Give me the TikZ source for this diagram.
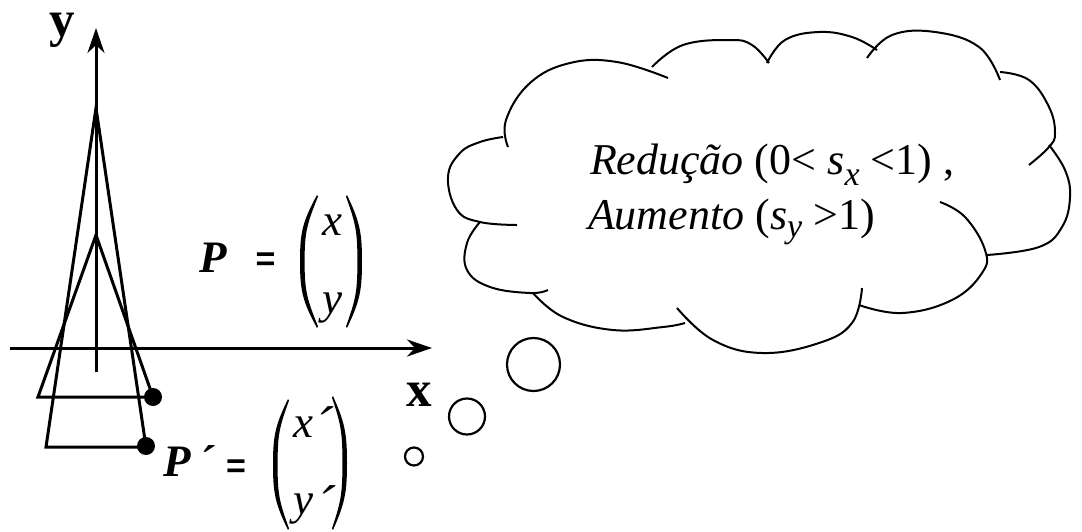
\documentclass[tikz,border=0pt]{standalone}
\usepackage{fontspec}
\setmainfont{Liberation Serif}
\newfontfamily\eqfont{Liberation Sans}
\usetikzlibrary{arrows.meta}
\newcommand\myParen[5]{% #1 outer x, #2 end x, #3 top y, #4 bottom y, #5 side (+1 left, -1 right)
  \pgfmathsetmacro\pMid{(#3+#4)/2}%
  \pgfmathsetmacro\pH{#4-#3}%
  \fill (#2,#3) .. controls ({#1+0.15*(#2-#1)},{#3+0.2*\pH}) and (#1,{\pMid-0.22*\pH}) .. (#1,\pMid)
    .. controls (#1,{\pMid+0.22*\pH}) and ({#1+0.15*(#2-#1)},{#4-0.2*\pH}) .. (#2,#4)
    -- ({#2+#5*1.0},{#4-1.6})
    .. controls ({#1+0.4*(#2-#1)},{#4-0.22*\pH}) and ({#1+#5*4.6},{\pMid+0.22*\pH}) .. ({#1+#5*4.6},\pMid)
    .. controls ({#1+#5*4.6},{\pMid-0.22*\pH}) and ({#1+0.4*(#2-#1)},{#3+0.22*\pH}) .. ({#2+#5*1.0},{#3+1.6})
    -- cycle;}
\begin{document}
\begin{tikzpicture}[x=1pt,y=-1pt,
  axis/.style={line width=3pt, -{Stealth[length=25pt,width=17pt,inset=8pt]}},
  figline/.style={line width=3pt, line join=miter},
  dotmark/.style={circle, fill=black, inner sep=0pt, minimum size=18pt},
  cloudline/.style={line width=2pt, line cap=butt},
  bubble/.style={circle, draw, line width=2.2pt, inner sep=0pt},
  txt/.style={inner sep=0pt, outer sep=0pt, anchor=base west},
  ctxt/.style={inner sep=0pt, outer sep=0pt, anchor=base},
  eqsign/.style={ctxt, font=\fontsize{34}{34}\selectfont\eqfont\bfseries}]
\path[use as bounding box] (0,0) rectangle (1082,531);

% axes
\coordinate (ytop) at (96,28);
\coordinate (ybot) at (96,372);
\coordinate (xl) at (10,348);
\coordinate (xr) at (432,348);
\draw[axis] (ybot) -- (ytop);
\draw[axis] (xl) -- (xr);
\node[txt, text height=24pt, font=\fontsize{51}{51}\selectfont\bfseries] (ylab) at (49,36) {y};
\node[txt, font=\fontsize{51}{51}\selectfont\bfseries] (xlab) at (406,406) {x};

% triangles
\coordinate (A1) at (96,235);
\coordinate (B1) at (38,397);
\coordinate (C1) at (153,397);
\coordinate (A2) at (96,108);
\coordinate (B2) at (46,447);
\coordinate (C2) at (146,447);
\draw[figline] (A1) -- (B1) -- (C1) -- cycle;
\draw[figline] (A2) -- (B2) -- (C2) -- cycle;
\node[dotmark] (d1) at (C1) {};
\node[dotmark] (d2) at (146,446) {};

% P = (x y)
\node[txt, font=\fontsize{45}{45}\selectfont\bfseries\itshape] (P) at (199,272) {P};
\node[eqsign] (eq1) at (265.5,270) {=};
\myParen{300}{317}{195}{328}{1}
\myParen{362}{347}{195}{328}{-1}
\node[ctxt, font=\fontsize{45}{45}\selectfont\itshape] (mx) at (332,235) {x};
\node[ctxt, font=\fontsize{45}{45}\selectfont\itshape] (my) at (332,313) {y};

% P' = (x' y')
\node[txt, font=\fontsize{45}{45}\selectfont\bfseries\itshape] (Pp) at (163,476) {P};
\node[ctxt, font=\fontsize{46}{46}\selectfont\bfseries\itshape] (Ppr) at (206,477) {´};
\node[eqsign] (eq2) at (236,477) {=};
\myParen{273}{288}{399}{530}{1}
\myParen{347}{333}{396}{530}{-1}
\node[ctxt, font=\fontsize{45}{45}\selectfont\itshape] (mxp) at (303,437) {x};
\node[ctxt, font=\fontsize{56}{56}\selectfont\itshape] (mxpr) at (324,445) {´};
\node[ctxt, font=\fontsize{45}{45}\selectfont\itshape] (myp) at (303,514) {y};
\node[ctxt, font=\fontsize{56}{56}\selectfont\itshape] (mypr) at (326,524) {´};

% thought bubbles
\node[bubble, minimum size=18pt] (b1) at (414,456.5) {};
\node[bubble, minimum size=36pt] (b2) at (467,416.5) {};
\node[bubble, minimum size=53pt] (b3) at (533.5,364.5) {};

% cloud
\draw[cloudline] plot[smooth, tension=0.7] coordinates {(508,147) (506,120) (530,83) (570,63) (617,62) (668,78)};
\draw[cloudline] plot[smooth, tension=0.7] coordinates {(652,67) (683,45) (730,40) (752,45) (769,63)};
\draw[cloudline] plot[smooth, tension=0.7] coordinates {(767,63) (785,40) (819,32) (852,37) (877,50)};
\draw[cloudline] plot[smooth, tension=0.7] coordinates {(867,58) (892,35) (935,32) (979,47) (1000,80)};
\draw[cloudline] plot[smooth, tension=0.7] coordinates {(1000,72) (1029,80) (1049,107) (1055,133) (1049,147) (1029,165)};
\draw[cloudline] plot[smooth, tension=0.7] coordinates {(1049,145) (1065,170) (1070,197) (1062,227) (1039,247) (987,255)};
\draw[cloudline] plot[smooth, tension=0.7] coordinates {(940,202) (965,217) (985,250) (982,273) (952,300) (902,313) (859,305)};
\draw[cloudline] plot[smooth, tension=0.7] coordinates {(862,288) (852,323) (819,343) (762,353) (713,340) (677,308)};
\draw[cloudline] plot[smooth, tension=0.7] coordinates {(533,293) (563,317) (613,330) (663,327) (685,323)};
\draw[cloudline] plot[smooth, tension=0.7] coordinates {(480,222) (467,243) (467,270) (490,287) (530,293) (548,290)};
\draw[cloudline] plot[smooth, tension=0.7] coordinates {(517,225) (480,222) (457,210) (448,177) (460,153) (480,142) (503,137)};

% cloud text
\node[txt, font=\fontsize{44}{44}\selectfont] (t1) at (590,174) {\textit{Redução} (0<~\textit{s}\raisebox{-11pt}{\fontsize{34}{34}\selectfont\textit{x}}~<1)~,};
\node[txt, font=\fontsize{44}{44}\selectfont] (t2) at (588,229) {\textit{Aumento} (\textit{s}\raisebox{-8pt}{\fontsize{34}{34}\selectfont\textit{y}}~>1)};
\end{tikzpicture}
\end{document}
